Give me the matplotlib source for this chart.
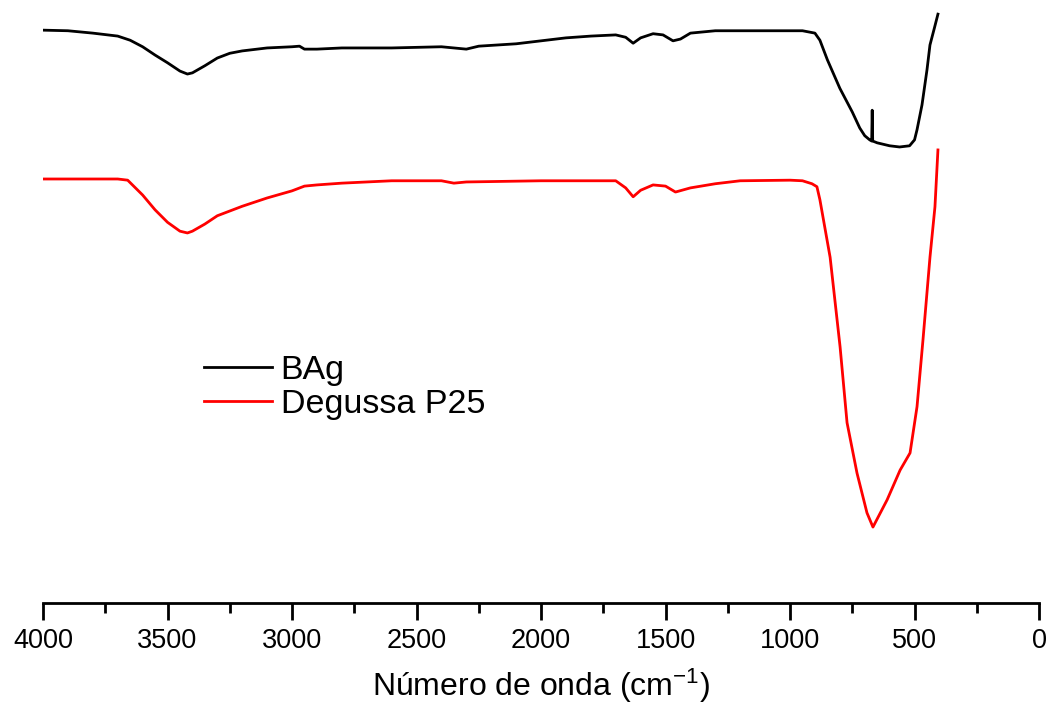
import matplotlib
matplotlib.use("Agg")
import matplotlib.pyplot as plt
from matplotlib.ticker import MultipleLocator

plt.rcParams['font.family'] = ['Liberation Sans', 'DejaVu Sans']
plt.rcParams['mathtext.fontset'] = 'custom'
plt.rcParams['mathtext.rm'] = 'Liberation Sans'
plt.rcParams['mathtext.it'] = 'Liberation Sans'

# BAg spectrum (transmittance, a.u.)
bag_wn = [4000, 3900, 3800, 3700, 3650, 3600, 3550, 3500, 3450, 3420, 3400, 3350,
          3300, 3250, 3200, 3100, 3000, 2970, 2950, 2900, 2800, 2600, 2400, 2350,
          2300, 2250, 2100, 2000, 1900, 1800, 1700, 1660, 1630, 1600, 1550, 1510,
          1470, 1440, 1400, 1300, 1000, 950, 900, 880, 850, 800, 750, 720, 700,
          680, 672, 670, 668, 650, 600, 560, 520, 500, 490, 470, 450, 438, 420, 406]
bag_t = [96.6, 96.5, 96.1, 95.6, 94.9, 93.8, 92.4, 91.1, 89.7, 89.2, 89.4, 90.6,
         91.9, 92.7, 93.1, 93.6, 93.8, 93.9, 93.4, 93.4, 93.6, 93.6, 93.8, 93.6,
         93.4, 93.9, 94.3, 94.8, 95.3, 95.6, 95.8, 95.4, 94.4, 95.3, 96.0, 95.8,
         94.8, 95.1, 96.1, 96.5, 96.5, 96.5, 96.1, 94.9, 91.6, 86.8, 82.8, 80.1, 78.8,
         78.1, 77.9, 83.1, 77.9, 77.6, 77.1, 76.9, 77.1, 78.1, 79.8, 84.0, 89.9, 94.1, 97.0, 99.3]

# Degussa P25 spectrum (transmittance, a.u.)
p25_wn = [4000, 3700, 3660, 3600, 3550, 3500, 3450, 3420, 3400, 3350, 3300, 3200,
          3100, 3000, 2950, 2900, 2800, 2600, 2400, 2350, 2300, 2000, 1700, 1660,
          1630, 1600, 1550, 1500, 1460, 1400, 1300, 1200, 1000, 950, 912, 892, 880,
          839, 799, 771, 731, 691, 667, 610, 558, 518, 490, 466, 438, 418, 406]
p25_t = [71.5, 71.5, 71.3, 68.8, 66.3, 64.2, 62.7, 62.4, 62.7, 63.9, 65.3, 66.9,
         68.3, 69.5, 70.3, 70.5, 70.8, 71.2, 71.2, 70.8, 71.0, 71.2, 71.2, 70.0,
         68.5, 69.6, 70.5, 70.3, 69.3, 70.0, 70.7, 71.2, 71.3, 71.2, 70.7, 70.2, 68.0,
         58.3, 43.2, 30.4, 21.9, 15.2, 12.8, 17.4, 22.4, 25.3, 33.1, 44.4, 58.3, 66.8, 76.4]

fig = plt.figure(figsize=(10.49, 7.04), dpi=100)
ax = fig.add_axes([0.041, 0.1435, 0.9495, 0.8423])

ax.plot(bag_wn, bag_t, color='black', lw=2, label='BAg')
ax.plot(p25_wn, p25_t, color='red', lw=2, label='Degussa P25')

ax.set_xlim(4000, 0)
ax.set_ylim(0, 100)

for s in ['left', 'right', 'top']:
    ax.spines[s].set_visible(False)
ax.spines['bottom'].set_linewidth(2)
ax.set_yticks([])

ax.xaxis.set_major_locator(MultipleLocator(500))
ax.xaxis.set_minor_locator(MultipleLocator(250))
ax.tick_params(axis='x', which='major', length=12, width=2, labelsize=19.5, pad=6)
ax.tick_params(axis='x', which='minor', length=7, width=2)

ax.set_xlabel(r'Número de onda (cm$^{-1}$)', fontsize=23, labelpad=9)

ax.legend(loc='center left', bbox_to_anchor=(0.1617, 0.3634), frameon=False,
          fontsize=24.5, handlelength=2.0, handletextpad=0.25, labelspacing=0.1,
          borderpad=0, borderaxespad=0)

plt.savefig("out.png", dpi=100)
